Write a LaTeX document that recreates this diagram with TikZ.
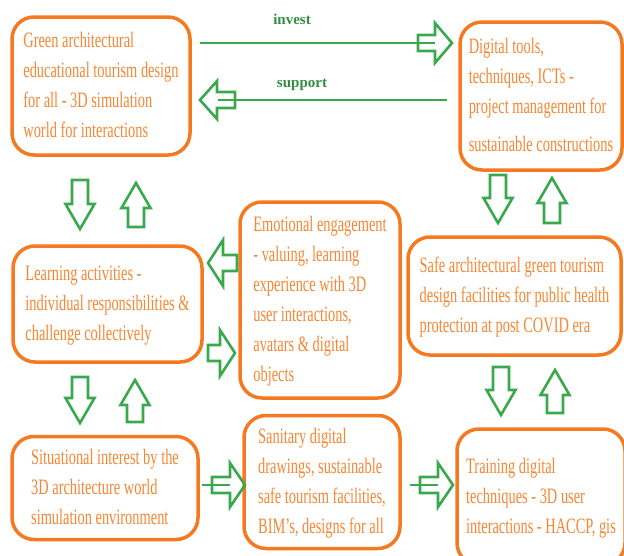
\documentclass[tikz,border=0pt]{standalone}
\usepackage{fontspec}
\setmainfont{Liberation Serif}
\usepackage{graphicx}
\definecolor{boxorange}{RGB}{244,121,32}
\definecolor{txtorange}{RGB}{246,134,52}
\definecolor{arrgreen}{RGB}{58,168,76}
\newcommand{\cardtext}[1]{\scalebox{.655}[1]{\begin{tabular}{@{}l@{}}#1\end{tabular}}}

\begin{document}
\begin{tikzpicture}[x=1pt,y=-1pt,
  card/.style={draw=boxorange,line width=3.5pt,rounded corners=22pt,inner sep=0pt,
    text=txtorange,font=\fontsize{22}{30}\selectfont},
  flow/.style={draw=arrgreen,line width=2.6pt},
  tag/.style={text=arrgreen!85!black,font=\fontsize{15}{18}\selectfont\bfseries},
  pics/blk/.style args={#1/#2/#3}{code={
    \draw[flow] (0,-8) -- ({#1-#3},-8) -- ({#1-#3},{-#2/2}) -- (#1,0)
      -- ({#1-#3},{#2/2}) -- ({#1-#3},8) -- (0,8) -- cycle;}}]
  \useasboundingbox (0,0) rectangle (624,555);
  \clip (0,0) rectangle (624,555);
  % boxes, placed at the centres
  \node[card,minimum width=178,minimum height=138] (green) at (101,86)
    {\cardtext{Green architectural\\educational tourism design\\for all - 3D simulation\\world for interactions}};
  \node[card,minimum width=162,minimum height=148] (digital) at (541,96)
    {\cardtext{Digital tools,\\techniques, ICTs -\\project management for\\[8pt]sustainable constructions}};
  \node[card,minimum width=189,minimum height=116] (learning) at (107.5,304)
    {\cardtext{Learning activities -\\individual responsibilities \&\\challenge collectively}};
  \node[card,minimum width=160,minimum height=196] (emotional) at (320,300)
    {\cardtext{Emotional engagement\\- valuing, learning\\experience with 3D\\user interactions,\\avatars \& digital\\objects}};
  \node[card,minimum width=213,minimum height=118] (safe) at (514.5,296)
    {\cardtext{Safe architectural green tourism\\design facilities for public health\\protection at post COVID era}};
  \node[card,minimum width=186,minimum height=103] (situational) at (105,488)
    {\cardtext{Situational interest by the\\3D architecture world\\simulation environment}};
  \node[card,minimum width=156,minimum height=133] (sanitary) at (322,482)
    {\cardtext{Sanitary digital\\drawings, sustainable\\safe tourism facilities,\\BIM's, designs for all}};
  \node[card,minimum width=168,minimum height=136] (training) at (541,497)
    {\cardtext{Training digital\\techniques - 3D user\\interactions - HACCP, gis}};
  \node[tag] (invest) at (292,19) {invest};
  \node[tag] (support) at (302,85) {support};
  \coordinate (investtail) at (200,43);
  \coordinate (investhead) at (435,43);
  \coordinate (supporttail) at (447,100);
  \coordinate (supporthead) at (218,100);
  \coordinate (sittail) at (202,485);
  \coordinate (sithead) at (230,485);
  \coordinate (santail) at (410,485);
  \coordinate (sanhead) at (438,485);
  \draw[flow] (investtail) -- (investhead);
  \draw[flow] (supporttail) -- (supporthead);
  \draw[flow] (sittail) -- (sithead);
  \draw[flow] (santail) -- (sanhead);
  \pic at (418,43) {blk=34/40/17};
  \pic[rotate=180] at (235,100) {blk=35/38/17};
  \pic at (212,485) {blk=33/44/15};
  \pic at (420,485) {blk=33/44/15};
  \pic[rotate=180] at (237,263) {blk=29/46/15};
  \pic at (208,353) {blk=27/46/15};
  \foreach \px/\py/\rot/\len in {80/180/-90/49,136/227/90/44,80/377/-90/46,135/422/90/42,
    498/175/-90/48,552/223/90/45,501/367/-90/48,555/413/90/43}
    \pic[rotate=\rot] at (\px,\py) {blk=\len/29/25};
\end{tikzpicture}
\end{document}
